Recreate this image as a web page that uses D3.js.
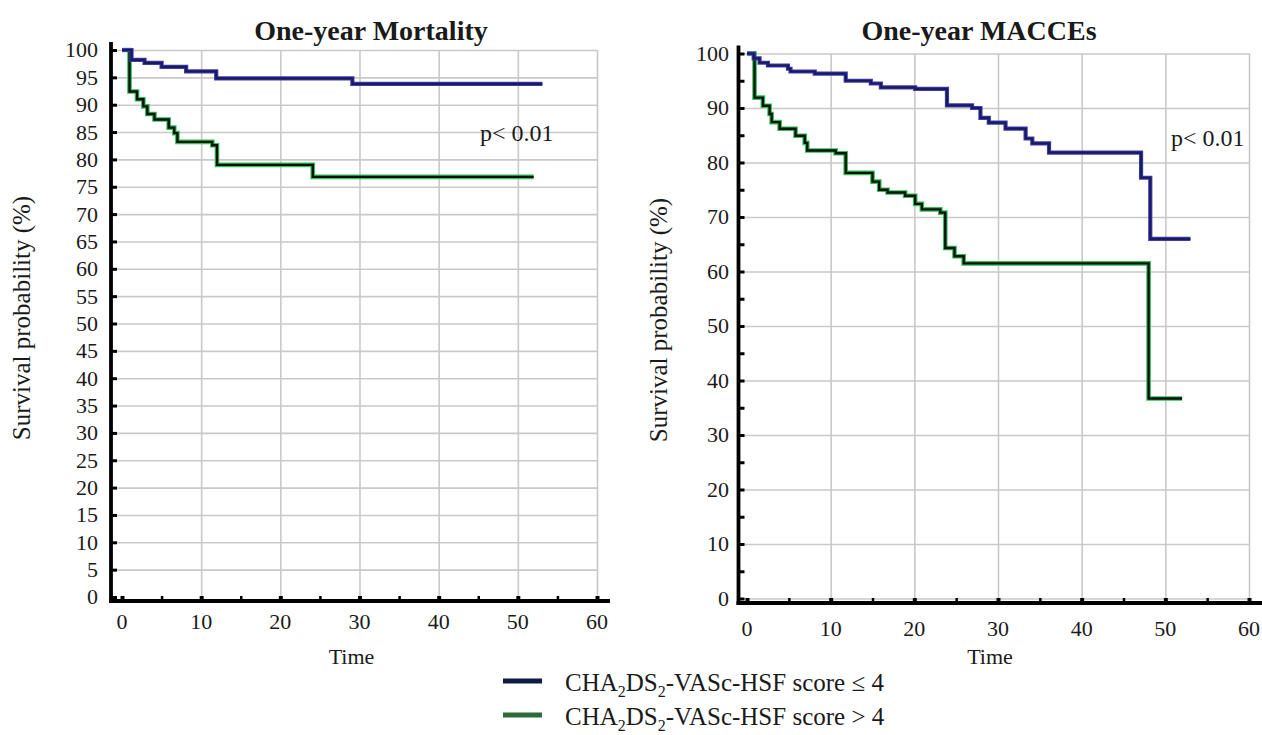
<!DOCTYPE html>
<html>
<head>
<meta charset="utf-8">
<script src="https://cdn.jsdelivr.net/npm/d3@7"></script>
<style>
  html, body { margin: 0; padding: 0; background: #ffffff; }
  svg { display: block; font-family: "Liberation Serif", "Times New Roman", serif; }
  svg text { font-family: "Liberation Serif", "Times New Roman", serif !important; fill: #1a1a1a; }
</style>
</head>
<body>
<svg id="chart" width="1262" height="735" font-family="Liberation Serif, Times New Roman, serif"></svg>
<script>
// ---------------- DATA ----------------
const chartTitles = ["One-year Mortality", "One-year MACCEs"];
const yAxisTitle = "Survival probability (%)";
const xAxisTitle = "Time";
const pValueText = "p< 0.01";
const xTickValues = [0, 10, 20, 30, 40, 50, 60];
const mortalityYTicks = [0,5,10,15,20,25,30,35,40,45,50,55,60,65,70,75,80,85,90,95,100];
const maccesYTicks = [0,10,20,30,40,50,60,70,80,90,100];
const seriesNames = ["CHA2DS2-VASc-HSF score ≤ 4", "CHA2DS2-VASc-HSF score > 4"];

// One-year mortality, score <= 4 (blue)
const mortLowTime  = [0, 1.2, 2.85, 5.0, 8.1, 11.9, 29.1, 53.1];
const mortLowSurv  = [100, 98.2, 97.65, 96.9, 96.1, 94.8, 93.8, 93.8];
// One-year mortality, score > 4 (green)
const mortHighTime = [0, 0.95, 1.9, 2.7, 3.2, 4.1, 5.9, 6.6, 7.0, 11.4, 12.0, 24.1, 52.0];
const mortHighSurv = [100, 92.4, 91.0, 89.7, 88.3, 87.3, 85.8, 84.8, 83.2, 82.6, 79.0, 76.8, 76.8];

// One-year MACCEs, score <= 4 (blue)
const maccLowTime  = [0, 0.8, 1.5, 2.5, 4.9, 5.2, 8.1, 11.8, 14.8, 16.0, 20.1, 23.9, 26.9, 27.9, 28.9, 30.9, 33.3, 34.1, 36.1, 47.1, 48.2, 53.0];
const maccLowSurv  = [100, 99.1, 98.3, 97.8, 97.2, 96.7, 96.3, 95.0, 94.5, 93.8, 93.5, 90.5, 90.0, 88.2, 87.3, 86.2, 84.4, 83.5, 81.8, 77.2, 66.0, 66.0];
// One-year MACCEs, score > 4 (green)
const maccHighTime = [0, 0.9, 1.9, 2.7, 2.95, 3.9, 5.8, 6.9, 7.2, 10.6, 11.8, 15.0, 15.8, 16.8, 18.9, 20.1, 20.9, 23.1, 23.7, 24.8, 25.9, 48.0, 52.0];
const maccHighSurv = [100, 91.9, 90.4, 88.9, 87.4, 86.2, 84.9, 83.6, 82.2, 81.7, 78.1, 76.5, 75.0, 74.5, 73.9, 72.4, 71.4, 70.8, 64.3, 62.8, 61.5, 36.7, 36.7];

// ---------------- DRAW ----------------
const FONT = "Liberation Serif, Times New Roman, serif";
const svg = d3.select("#chart");
const zip = (t, v) => t.map((d, i) => ({ t: d, v: v[i] }));

function drawPanel(cfg) {
  const g = svg.append("g").attr("font-family", FONT);
  const x = d3.scaleLinear().domain([0, 60]).range(cfg.xRange);
  const y = d3.scaleLinear().domain([0, 100]).range(cfg.yRange);

  // horizontal grid
  g.append("g")
    .attr("transform", `translate(${x(60)},0)`)
    .call(d3.axisLeft(y).tickValues(cfg.gridY).tickSize(x(60) - cfg.axisX).tickFormat(""))
    .call(s => s.select(".domain").remove())
    .call(s => s.selectAll(".tick line").attr("stroke", "#c9c9c9").attr("stroke-width", 1.6));
  // vertical grid
  g.append("g")
    .attr("transform", `translate(0,${y(100)})`)
    .call(d3.axisBottom(x).tickValues([10, 20, 30, 40, 50, 60]).tickSize(cfg.axisY - y(100)).tickFormat(""))
    .call(s => s.select(".domain").remove())
    .call(s => s.selectAll(".tick line").attr("stroke", "#c9c9c9").attr("stroke-width", 1.6));

  // curves
  const line = d3.line().x(d => x(d.t)).y(d => y(d.v)).curve(d3.curveStepAfter);
  const low = zip(cfg.lowT, cfg.lowS), high = zip(cfg.highT, cfg.highS);
  g.append("path").datum(high).attr("d", line).attr("fill", "none")
    .attr("stroke", "#2fbf55").attr("stroke-width", 4.6);
  g.append("path").datum(high).attr("d", line).attr("fill", "none")
    .attr("stroke", "#0b120c").attr("stroke-width", 2.4);
  g.append("path").datum(low).attr("d", line).attr("fill", "none")
    .attr("stroke", "#3c3cb0").attr("stroke-width", 4.2);
  g.append("path").datum(low).attr("d", line).attr("fill", "none")
    .attr("stroke", "#1a1a5e").attr("stroke-width", 2.2);

  // y axis (thick black, ticks inward)
  const yAx = g.append("g")
    .attr("transform", `translate(${cfg.axisX},0)`)
    .call(d3.axisLeft(y).tickValues(d3.range(0, 101, 5)).tickSizeInner(-6).tickSizeOuter(0).tickFormat(""));
  yAx.select(".domain").remove();
  yAx.selectAll(".tick line").attr("stroke", "#000").attr("stroke-width", 3);
  g.append("line").attr("x1", cfg.axisX).attr("x2", cfg.axisX)
    .attr("y1", y(100) - 8).attr("y2", cfg.axisY + 2)
    .attr("stroke", "#000").attr("stroke-width", 3.8);

  // x axis (thick black, ticks upward)
  const xAx = g.append("g")
    .attr("transform", `translate(0,${cfg.axisY})`)
    .call(d3.axisBottom(x).tickValues(d3.range(0, 61, 5)).tickSizeInner(-5).tickSizeOuter(0).tickFormat(""));
  xAx.select(".domain").remove();
  xAx.selectAll(".tick line").attr("stroke", "#000")
    .attr("stroke-width", d => d % 10 === 0 ? 4 : 2.5);
  g.append("line").attr("x1", cfg.axisX - 2).attr("x2", cfg.xAxisEnd)
    .attr("y1", cfg.axisY).attr("y2", cfg.axisY)
    .attr("stroke", "#000").attr("stroke-width", 3.8);

  // tick labels
  g.selectAll(".ylab").data(cfg.yLabels).enter().append("text")
    .attr("font-family", FONT)
    .attr("x", cfg.yLabelX).attr("y", d => y(d)).attr("dy", "0.34em")
    .attr("text-anchor", "end").attr("font-size", 22).text(d => d);
  g.selectAll(".xlab").data(xTickValues).enter().append("text")
    .attr("font-family", FONT)
    .attr("x", d => x(d)).attr("y", cfg.xLabelY)
    .attr("text-anchor", "middle").attr("font-size", 22).text(d => d);

  // titles
  g.append("text").attr("font-family", FONT).attr("x", cfg.titleX).attr("y", 40)
    .attr("text-anchor", "middle").attr("font-size", 28).attr("font-weight", "bold")
    .attr("fill", "#111").text(cfg.title);
  g.append("text").attr("font-family", FONT).attr("x", (x(0) + x(60)) / 2 - 8).attr("y", 664)
    .attr("text-anchor", "middle").attr("font-size", 22).text(xAxisTitle);
  g.append("text").attr("font-family", FONT)
    .attr("transform", `translate(${cfg.yTitleX},${cfg.yTitleY}) rotate(-90)`)
    .attr("text-anchor", "middle").attr("font-size", 25).text(yAxisTitle);
  g.append("text").attr("font-family", FONT).attr("x", cfg.pX).attr("y", cfg.pY)
    .attr("font-size", 24).text(pValueText);
}

drawPanel({
  title: chartTitles[0], titleX: 371,
  xRange: [122, 597], yRange: [597, 50],
  axisX: 111, axisY: 601, xAxisEnd: 610,
  gridY: d3.range(5, 101, 5),
  yLabels: mortalityYTicks, yLabelX: 98, xLabelY: 629,
  yTitleX: 30, yTitleY: 318,
  pX: 480, pY: 141,
  lowT: mortLowTime, lowS: mortLowSurv, highT: mortHighTime, highS: mortHighSurv
});

drawPanel({
  title: chartTitles[1], titleX: 979,
  xRange: [747, 1249], yRange: [598.5, 53.5],
  axisX: 738.5, axisY: 603, xAxisEnd: 1262,
  gridY: d3.range(0, 101, 10),
  yLabels: maccesYTicks, yLabelX: 729, xLabelY: 636,
  yTitleX: 667, yTitleY: 320,
  pX: 1171, pY: 146,
  lowT: maccLowTime, lowS: maccLowSurv, highT: maccHighTime, highS: maccHighSurv
});

// legend
const legendColors = ["#0f1a45", "#2e6b3b"];
const legend = svg.append("g").attr("font-family", FONT);
[0, 1].forEach(i => {
  const cy = 681 + i * 34;
  legend.append("line").attr("x1", 503).attr("x2", 542).attr("y1", cy).attr("y2", cy)
    .attr("stroke", legendColors[i]).attr("stroke-width", 5);
  const t = legend.append("text").attr("font-family", FONT)
    .attr("x", 565).attr("y", cy + 10).attr("font-size", 25);
  const rest = seriesNames[i].replace("CHA2DS2", "");
  t.append("tspan").text("CHA");
  t.append("tspan").attr("font-size", 16).attr("dy", 6).text("2");
  t.append("tspan").attr("dy", -6).text("DS");
  t.append("tspan").attr("font-size", 16).attr("dy", 6).text("2");
  t.append("tspan").attr("dy", -6).text(rest);
});
</script>
</body>
</html>
